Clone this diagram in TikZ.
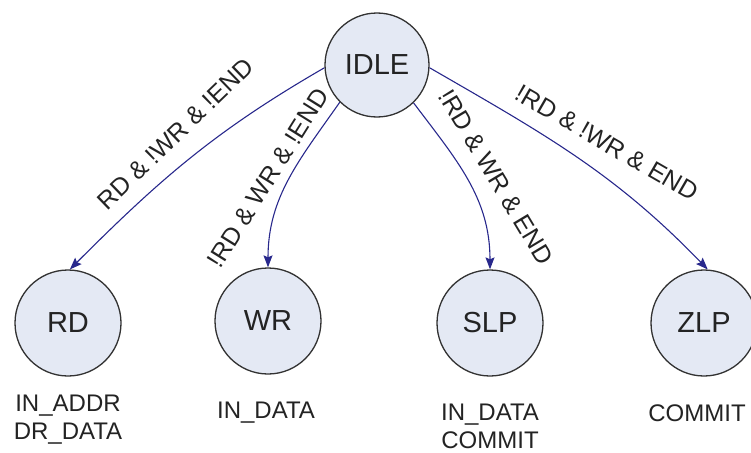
\documentclass[tikz,border=0pt]{standalone}
\usepackage{fontspec}
\setmainfont{Liberation Sans}
\usetikzlibrary{arrows.meta}
\definecolor{fillc}{RGB}{228,233,244}
\definecolor{edgec}{RGB}{40,40,140}
\definecolor{linec}{RGB}{50,50,50}
\definecolor{textc}{RGB}{35,35,35}
\begin{document}
\begin{tikzpicture}[x=1pt,y=1pt,
  state/.style={circle,draw=linec,line width=1.3pt,fill=fillc,minimum size=106pt,inner sep=0pt,text=textc,font=\fontsize{29}{32}\selectfont},
  trans/.style={draw=edgec,line width=1.1pt,-{Stealth[length=12pt,width=9pt,inset=2pt]}},
  cond/.style={font=\fontsize{25}{28}\selectfont,inner sep=0pt,text=textc},
  act/.style={font=\fontsize{24}{28}\selectfont,align=center,inner sep=0pt,text=textc}]
\useasboundingbox (0,0) rectangle (751,-452);
\node[state,minimum size=104pt] (idle) at (377,-65) {IDLE};
\node[state] (rd) at (68,-323) {RD};
\node[state] (wr) at (268,-321) {WR};
\node[state] (slp) at (490,-323) {SLP};
\node[state] (zlp) at (704,-323) {ZLP};
\draw[trans] (idle.183) to[out=210,in=45] (rd.88);
\draw[trans] (idle.225) to[out=235,in=90] (wr.north);
\draw[trans] (idle.314) to[out=-53,in=90] (slp.north);
\draw[trans] (idle.357) to[out=-30,in=134] (zlp.86);
\node[cond,rotate=44] (l1) at (176,-134) {RD \& !WR \& !END};
\node[cond,rotate=58] (l2) at (268,-178) {!RD \& WR \& !END};
\node[cond,rotate=-59] (l3) at (496,-177) {!RD \& WR \& END};
\node[cond,rotate=-30] (l4) at (607,-143) {!RD \& !WR \& END};
\node[act] (a1) at (68,-420) {IN\_ADDR\\DR\_DATA};
\node[act] (a2) at (266,-413) {IN\_DATA};
\node[act] (a3) at (490,-426) {IN\_DATA\\COMMIT};
\node[act] (a4) at (697,-413) {COMMIT};
\end{tikzpicture}
\end{document}
